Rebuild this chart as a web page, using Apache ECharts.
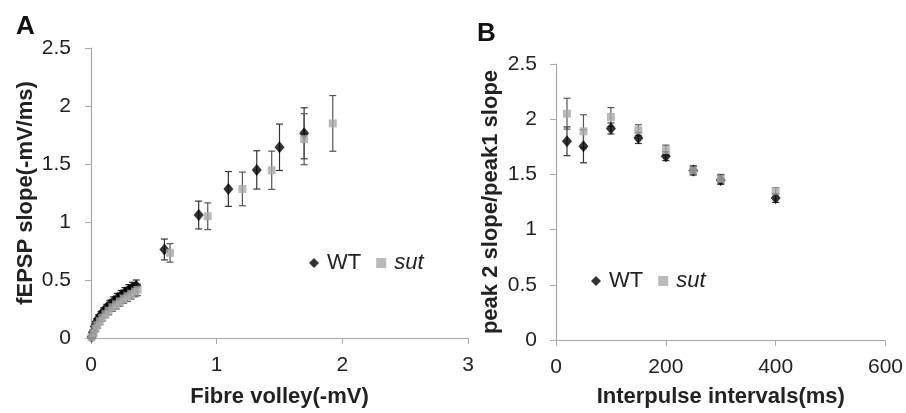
<!DOCTYPE html>
<html>
<head>
  <meta charset="utf-8" />
  <title>fEPSP / paired-pulse</title>
  <script src="https://cdn.jsdelivr.net/npm/echarts@6/dist/echarts.min.js"></script>
  <style>
    html, body { margin: 0; padding: 0; background: #fff; }
    #chart { width: 906px; height: 413px; }
  </style>
</head>
<body>
  <div id="chart"></div>
  <script>
    // Panel A: input/output (fibre volley vs fEPSP slope)
    var wtFvX = [0.005, 0.015, 0.03, 0.045, 0.06, 0.08, 0.1, 0.125, 0.15, 0.18, 0.21, 0.24, 0.27, 0.3, 0.33, 0.36, 0.584, 0.857, 1.093, 1.319, 1.5, 1.696]
    var wtFvY = [0.01, 0.05, 0.1, 0.14, 0.17, 0.2, 0.23, 0.26, 0.29, 0.32, 0.345, 0.37, 0.395, 0.415, 0.435, 0.45, 0.763, 1.06, 1.285, 1.449, 1.644, 1.765]
    var wtFvErr = [0.01, 0.02, 0.02, 0.025, 0.03, 0.03, 0.03, 0.03, 0.035, 0.035, 0.04, 0.04, 0.04, 0.045, 0.045, 0.05, 0.09, 0.12, 0.15, 0.165, 0.2, 0.22]

    var sutFvX = [0.005, 0.02, 0.035, 0.05, 0.07, 0.09, 0.115, 0.14, 0.17, 0.2, 0.23, 0.26, 0.29, 0.32, 0.35, 0.37, 0.629, 0.929, 1.205, 1.438, 1.696, 1.924]
    var sutFvY = [0.005, 0.04, 0.08, 0.11, 0.145, 0.175, 0.205, 0.235, 0.265, 0.29, 0.315, 0.34, 0.36, 0.38, 0.4, 0.415, 0.734, 1.05, 1.285, 1.446, 1.714, 1.85]
    var sutFvErr = [0.01, 0.02, 0.02, 0.025, 0.03, 0.03, 0.03, 0.035, 0.035, 0.04, 0.04, 0.04, 0.045, 0.045, 0.045, 0.05, 0.08, 0.115, 0.145, 0.165, 0.22, 0.24]

    // Panel B: paired-pulse ratio vs interval
    var ppInterval = [20, 50, 100, 150, 200, 250, 300, 400]
    var wtPpr = [1.8, 1.755, 1.916, 1.83, 1.665, 1.536, 1.45, 1.286]
    var wtPprErr = [0.13, 0.15, 0.05, 0.05, 0.04, 0.04, 0.04, 0.04]
    var sutPpr = [2.05, 1.89, 2.02, 1.9, 1.72, 1.536, 1.46, 1.35]
    var sutPprErr = [0.14, 0.15, 0.085, 0.05, 0.045, 0.04, 0.04, 0.03]

    var FONT = "Liberation Sans, Arial, sans-serif"
    var axisGrey = "#a8a8a8"

    function points(xs, ys) {
      return xs.map(function (x, i) { return [x, ys[i]] })
    }
    function errRows(xs, ys, es) {
      return xs.map(function (x, i) { return [x, ys[i] - es[i], ys[i] + es[i]] })
    }

    function errorSeries(idx, rows, color) {
      return {
        type: "custom",
        xAxisIndex: idx,
        yAxisIndex: idx,
        silent: true,
        z: 1,
        data: rows,
        renderItem: function (params, api) {
          var lo = api.coord([api.value(0), api.value(1)])
          var hi = api.coord([api.value(0), api.value(2)])
          var w = 3.5
          var st = { stroke: color, lineWidth: 1.2 }
          return {
            type: "group",
            children: [
              { type: "line", shape: { x1: lo[0], y1: lo[1], x2: hi[0], y2: hi[1] }, style: st },
              { type: "line", shape: { x1: hi[0] - w, y1: hi[1], x2: hi[0] + w, y2: hi[1] }, style: st },
              { type: "line", shape: { x1: lo[0] - w, y1: lo[1], x2: lo[0] + w, y2: lo[1] }, style: st }
            ]
          }
        }
      }
    }

    function valueAxis(idx, min, max, interval, name, nameGap) {
      return {
        type: "value",
        gridIndex: idx,
        min: min,
        max: max,
        interval: interval,
        name: name,
        nameLocation: "middle",
        nameGap: nameGap,
        nameTextStyle: { fontFamily: FONT, fontSize: 22, fontWeight: "bold", color: "#222" },
        axisLine: { show: true, lineStyle: { color: axisGrey, width: 1.2 } },
        axisTick: { show: true, length: 6, lineStyle: { color: axisGrey } },
        axisLabel: { fontFamily: FONT, fontSize: 21, color: "#222", margin: 17 },
        splitLine: { show: false }
      }
    }

    var xA = valueAxis(0, 0, 3, 1, "Fibre volley(-mV)", 48)
    var xB = valueAxis(1, 0, 600, 200, "Interpulse intervals(ms)", 46)
    var yA = valueAxis(0, 0, 2.5, 0.5, "fEPSP slope(-mV/ms)", 54)
    var yB = valueAxis(1, 0, 2.5, 0.5, "peak 2 slope/peak1 slope", 54)
    yA.axisLabel.margin = 20
    yB.axisLabel.margin = 19

    var legendBase = {
      orient: "horizontal",
      itemWidth: 10,
      itemHeight: 10,
      itemGap: 15,
      textStyle: { fontFamily: FONT, fontSize: 22, color: "#222", padding: [0, 0, 0, 3] },
      data: [{ name: "WT" }, { name: "sut", textStyle: { fontStyle: "italic" } }],
      selectedMode: false
    }

    var option = {
      animation: false,
      backgroundColor: "#fff",
      title: [
        { text: "A", left: 11, top: 9, textStyle: { fontFamily: FONT, fontSize: 26, fontWeight: "bold", color: "#111" } },
        { text: "B", left: 472, top: 16, textStyle: { fontFamily: FONT, fontSize: 26, fontWeight: "bold", color: "#111" } }
      ],
      legend: [
        Object.assign({}, legendBase, { left: 304, top: 247 }),
        Object.assign({}, legendBase, { left: 586, top: 265 })
      ],
      grid: [
        { left: 91, top: 48, width: 377, height: 295 },
        { left: 556, top: 64, width: 330, height: 280 }
      ],
      xAxis: [xA, xB],
      yAxis: [yA, yB],
      series: [
        errorSeries(0, errRows(wtFvX, wtFvY, wtFvErr), "#333"),
        errorSeries(0, errRows(sutFvX, sutFvY, sutFvErr), "#555"),
        errorSeries(1, errRows(ppInterval, wtPpr, wtPprErr), "#333"),
        errorSeries(1, errRows(ppInterval, sutPpr, sutPprErr), "#555"),
        {
          name: "WT", type: "scatter", xAxisIndex: 0, yAxisIndex: 0, z: 3,
          symbol: "diamond", symbolSize: [10, 12],
          itemStyle: { color: "#000" },
          data: points(wtFvX, wtFvY)
        },
        {
          name: "sut", type: "scatter", xAxisIndex: 0, yAxisIndex: 0, z: 4,
          symbol: "rect", symbolSize: 8,
          itemStyle: { color: "#a9a9a9" },
          data: points(sutFvX, sutFvY)
        },
        {
          name: "WT", type: "scatter", xAxisIndex: 1, yAxisIndex: 1, z: 3,
          symbol: "diamond", symbolSize: [10, 12],
          itemStyle: { color: "#000" },
          data: points(ppInterval, wtPpr)
        },
        {
          name: "sut", type: "scatter", xAxisIndex: 1, yAxisIndex: 1, z: 4,
          symbol: "rect", symbolSize: 8,
          itemStyle: { color: "#a9a9a9" },
          data: points(ppInterval, sutPpr)
        }
      ]
    }

    var chart = echarts.init(document.getElementById("chart"))
    chart.setOption(option)
  </script>
</body>
</html>
